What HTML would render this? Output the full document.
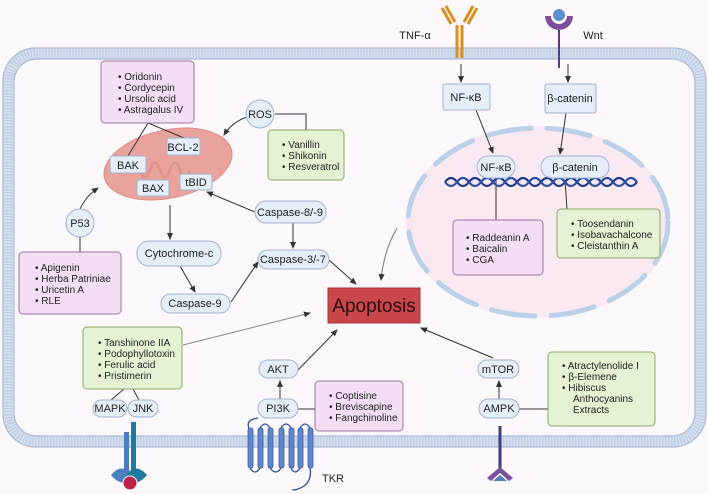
<!DOCTYPE html>
<html><head><meta charset="utf-8"><style>
html,body{margin:0;padding:0;background:#fdf8fb;}
svg{display:block;font-family:"Liberation Sans",sans-serif;}
</style></head><body>
<svg width="708" height="494" viewBox="0 0 708 494" xmlns="http://www.w3.org/2000/svg">
<defs>
<marker id="ar" markerWidth="8" markerHeight="8" refX="6" refY="3" orient="auto" markerUnits="userSpaceOnUse"><path d="M0,0 L7,3 L0,6 Z" fill="#333"/></marker>
</defs>
<rect width="708" height="494" fill="#fdf8fb"/>
<!-- membrane -->
<rect x="8.5" y="53.5" width="692" height="388" rx="28" fill="none" stroke="#d3deee" stroke-width="11"/>
<rect x="8.5" y="53.5" width="692" height="388" rx="28" fill="none" stroke="#9fb3d3" stroke-width="9" stroke-dasharray="1 2" opacity="0.45"/>
<rect x="3" y="48" width="703" height="399" rx="33" fill="none" stroke="#a8bad6" stroke-width="1.2"/>
<rect x="14" y="59" width="681" height="377" rx="23" fill="#fdf8fb" stroke="#a8bad6" stroke-width="1.2"/>

<!-- nucleus -->
<ellipse cx="538" cy="222" rx="132" ry="96" fill="#fae9f0"/>
<ellipse cx="538" cy="222" rx="130" ry="94" fill="none" stroke="#bcd0ea" stroke-width="5" stroke-linecap="round" stroke-dasharray="44 16"/>

<!-- mitochondrion -->
<ellipse cx="168" cy="164" rx="65" ry="34" transform="rotate(-12 168 164)" fill="#e9a39c" stroke="#dd8d86" stroke-width="1"/>
<g stroke="#dc8f88" stroke-width="3" fill="none" opacity="0.7">
<path d="M130 170 q5 -15 10 0 q5 15 10 0 q5 -15 10 0 q5 15 10 0 q5 -15 10 0 q5 15 10 0"/>
</g>

<!-- connectors -->
<g stroke="#333" stroke-width="1" fill="none">
<line x1="148" y1="123" x2="128" y2="156"/>
<line x1="148" y1="123" x2="184" y2="138"/>
<path d="M275 114 H306 V130"/>
<path d="M247 117 Q232 122 224 135" marker-end="url(#ar)"/>
<path d="M80 209 Q86 196 98 188" marker-end="url(#ar)"/>
<line x1="80" y1="237" x2="80" y2="252"/>
<line x1="255" y1="212" x2="207" y2="192" marker-end="url(#ar)"/>
<line x1="170" y1="205" x2="170" y2="239" marker-end="url(#ar)"/>
<line x1="293" y1="222" x2="293" y2="248" marker-end="url(#ar)"/>
<line x1="180" y1="266" x2="195" y2="292" marker-end="url(#ar)"/>
<line x1="231" y1="302" x2="258" y2="262" marker-end="url(#ar)"/>
<line x1="329" y1="260" x2="356" y2="284" marker-end="url(#ar)"/>
<line x1="183" y1="345" x2="310" y2="313" marker-end="url(#ar)" stroke="#888"/>
<line x1="124" y1="389" x2="111" y2="400"/>
<line x1="133" y1="389" x2="139" y2="400"/>
<line x1="298" y1="370" x2="337" y2="330" marker-end="url(#ar)"/>
<line x1="280" y1="399" x2="280" y2="381" marker-end="url(#ar)"/>
<line x1="298" y1="409" x2="315" y2="409"/>
<line x1="493" y1="358" x2="421" y2="328" marker-end="url(#ar)"/>
<line x1="499" y1="399" x2="499" y2="381" marker-end="url(#ar)"/>
<line x1="519" y1="409" x2="548" y2="409"/>
<line x1="461" y1="64" x2="461" y2="82" marker-end="url(#ar)"/>
<line x1="568" y1="64" x2="568" y2="82" marker-end="url(#ar)"/>
<line x1="476" y1="110" x2="493" y2="153" marker-end="url(#ar)"/>
<line x1="566" y1="113" x2="560" y2="154" marker-end="url(#ar)"/>
<line x1="496" y1="180" x2="496" y2="220"/>
<line x1="565" y1="180" x2="567" y2="209"/>
<path d="M397 228 Q384 250 381 280" marker-end="url(#ar)" stroke="#777"/>
</g>

<!-- DNA -->
<g fill="none" stroke="#1e3a8a" stroke-width="2.2">
<path d="M445 182 q6 -8 12 0 t12 0 t12 0 t12 0 t12 0 t12 0 t12 0 t12 0 t12 0 t12 0 t12 0 t12 0 t12 0 t12 0 t12 0 t12 0"/>
<path d="M445 182 q6 8 12 0 t12 0 t12 0 t12 0 t12 0 t12 0 t12 0 t12 0 t12 0 t12 0 t12 0 t12 0 t12 0 t12 0 t12 0 t12 0" stroke="#2a4da8"/>
</g>

<!-- boxes -->
<g font-size="10" fill="#222">
<rect x="101" y="61" width="93" height="62" rx="4" fill="#f3def5" stroke="#9b74a6"/>
<text x="118" y="80">• Oridonin</text><text x="118" y="91">• Cordycepin</text><text x="118" y="102">• Ursolic acid</text><text x="118" y="113">• Astragalus IV</text>

<rect x="268" y="130" width="76" height="50" rx="4" fill="#e6f2d4" stroke="#8aa866"/>
<text x="282" y="148">• Vanillin</text><text x="282" y="159">• Shikonin</text><text x="282" y="170">• Resveratrol</text>

<rect x="19" y="252" width="102" height="62" rx="4" fill="#f3def5" stroke="#9b74a6"/>
<text x="35" y="271">• Apigenin</text><text x="35" y="282">• Herba Patriniae</text><text x="35" y="293">• Uricetin A</text><text x="35" y="304">• RLE</text>

<rect x="83" y="327" width="99" height="62" rx="4" fill="#e6f2d4" stroke="#8aa866"/>
<text x="98" y="346">• Tanshinone IIA</text><text x="98" y="357">• Podophyllotoxin</text><text x="98" y="368">• Ferulic acid</text><text x="98" y="379">• Pristimerin</text>

<rect x="315" y="381" width="88" height="50" rx="4" fill="#f3def5" stroke="#9b74a6"/>
<text x="329" y="399">• Coptisine</text><text x="329" y="410">• Breviscapine</text><text x="329" y="421">• Fangchinoline</text>

<rect x="548" y="352" width="107" height="74" rx="4" fill="#e6f2d4" stroke="#8aa866"/>
<text x="562" y="369">• Atractylenolide I</text><text x="562" y="380">• β-Elemene</text><text x="562" y="391">• Hibiscus</text><text x="573" y="402">Anthocyanins</text><text x="573" y="413">Extracts</text>

<rect x="453" y="220" width="90" height="55" rx="4" fill="#f3def5" stroke="#9b74a6"/>
<text x="466" y="241">• Raddeanin A</text><text x="466" y="252">• Baicalin</text><text x="466" y="263">• CGA</text>

<rect x="557" y="209" width="103" height="49" rx="4" fill="#e6f2d4" stroke="#8aa866"/>
<text x="571" y="227">• Toosendanin</text><text x="571" y="238">• Isobavachalcone</text><text x="571" y="249">• Cleistanthin A</text>
</g>

<!-- nodes -->
<g font-size="11" fill="#222" text-anchor="middle">
<g fill="#e5eef9" stroke="#9fb3d3">
<rect x="167" y="138" width="33" height="17" rx="2"/>
<rect x="110" y="156" width="36" height="17" rx="2"/>
<rect x="137" y="180" width="32" height="16" rx="2"/>
<rect x="180" y="174" width="32" height="16" rx="2"/>
<circle cx="260" cy="114" r="14"/>
<circle cx="80" cy="223" r="14"/>
<rect x="255" y="201" width="71" height="22" rx="11"/>
<rect x="137" y="241" width="84" height="25" rx="12"/>
<rect x="161" y="294" width="69" height="19" rx="9.5"/>
<rect x="258" y="250" width="71" height="19" rx="9.5"/>
<rect x="93" y="400" width="34" height="17" rx="8.5"/>
<rect x="128" y="400" width="30" height="17" rx="8.5"/>
<rect x="259" y="360" width="39" height="18" rx="9"/>
<rect x="258" y="399" width="40" height="19" rx="9.5"/>
<rect x="478" y="360" width="41" height="18" rx="9"/>
<rect x="479" y="399" width="40" height="19" rx="9.5"/>
<rect x="443" y="84" width="47" height="26" rx="2"/>
<rect x="545" y="84" width="51" height="29" rx="2"/>
<rect x="477" y="156" width="38" height="22" rx="11"/>
<rect x="541" y="156" width="68" height="22" rx="11"/>
</g>
<text x="183" y="151">BCL-2</text><text x="128" y="169">BAK</text><text x="153" y="192">BAX</text><text x="196" y="186">tBID</text>
<text x="260" y="118">ROS</text><text x="80" y="227">P53</text>
<text x="290" y="216">Caspase-8/-9</text><text x="179" y="257">Cytochrome-c</text>
<text x="195" y="307">Caspase-9</text><text x="293" y="263">Caspase-3/-7</text>
<text x="110" y="412">MAPK</text><text x="143" y="412">JNK</text>
<text x="278" y="373">AKT</text><text x="278" y="412">PI3K</text>
<text x="498" y="373">mTOR</text><text x="499" y="412">AMPK</text>
<text x="466" y="101">NF-κB</text><text x="570" y="102">β-catenin</text>
<text x="496" y="171">NF-κB</text><text x="575" y="171">β-catenin</text>
<text x="415" y="39">TNF-α</text><text x="593" y="39">Wnt</text>
<text x="333" y="482">TKR</text>
</g>

<!-- apoptosis -->
<rect x="328" y="288" width="92" height="35" fill="#c9474b" stroke="#a83438"/>
<text x="374" y="312" font-size="19" text-anchor="middle" fill="#2a0a0c">Apoptosis</text>

<!-- TNF receptor -->
<g stroke="#d9901e" stroke-width="3" fill="none">
<line x1="457" y1="25" x2="457" y2="58"/><line x1="462" y1="25" x2="462" y2="58"/>
<line x1="455" y1="22" x2="446" y2="6"/><line x1="451" y1="24" x2="442" y2="8"/>
<line x1="464" y1="22" x2="473" y2="6"/><line x1="468" y1="24" x2="477" y2="8"/>
</g>
<!-- Wnt receptor -->
<path d="M545 16 A14 14 0 0 0 573 16 L567 16 A8 8 0 0 1 551 16 Z" fill="#7a4f9c"/>
<circle cx="559" cy="15" r="6" fill="#5b8fd0"/>
<line x1="559" y1="30" x2="559" y2="68" stroke="#5a3a80" stroke-width="2"/>

<!-- left receptor -->
<rect x="124" y="432" width="5" height="40" fill="#4a7ec0"/>
<rect x="131" y="422" width="5" height="50" fill="#1f7aa0"/>
<path d="M111 475 q10 -12 20 -2 v10 q-12 2 -20 -8z" fill="#4a7ec0"/>
<path d="M147 475 q-10 -12 -20 -2 v10 q12 2 20 -8z" fill="#1f7aa0"/>
<circle cx="130" cy="483" r="7" fill="#c0204a" stroke="#fff" stroke-width="1"/>

<!-- TKR -->
<path d="M258 418 q-14 2 -8 12" fill="none" stroke="#2d4f9a" stroke-width="1.3"/>
<g fill="#5f86c8" stroke="#3d5fa8" stroke-width="0.8">
<rect x="248" y="428" width="5" height="40" rx="2"/><rect x="258" y="428" width="5" height="40" rx="2"/>
<rect x="268" y="428" width="5" height="40" rx="2"/><rect x="279" y="428" width="5" height="40" rx="2"/>
<rect x="289" y="428" width="5" height="40" rx="2"/><rect x="298" y="428" width="5" height="40" rx="2"/>
<rect x="308" y="428" width="5" height="40" rx="2"/>
</g>
<path d="M250 468 q5 8 10 0 M260 428 q5 -8 10 0 M270 468 q6 8 11 0 M281 428 q5 -8 10 0 M291 468 q4 8 9 0 M300 428 q5 -8 10 0 M310 468 q2 12 -6 18 q-6 4 -12 4" fill="none" stroke="#2d4f9a" stroke-width="1.3"/>

<!-- AMPK receptor -->
<line x1="500" y1="426" x2="500" y2="472" stroke="#3b3f7a" stroke-width="3"/>
<path d="M487 478 L500 467 L513 478 L509 481 L500 473 L491 481 Z" fill="#7a4f9c"/>
<path d="M493 481 L500 475 L507 481 Z" fill="#4a7ec0"/>
</svg>
</body></html>
